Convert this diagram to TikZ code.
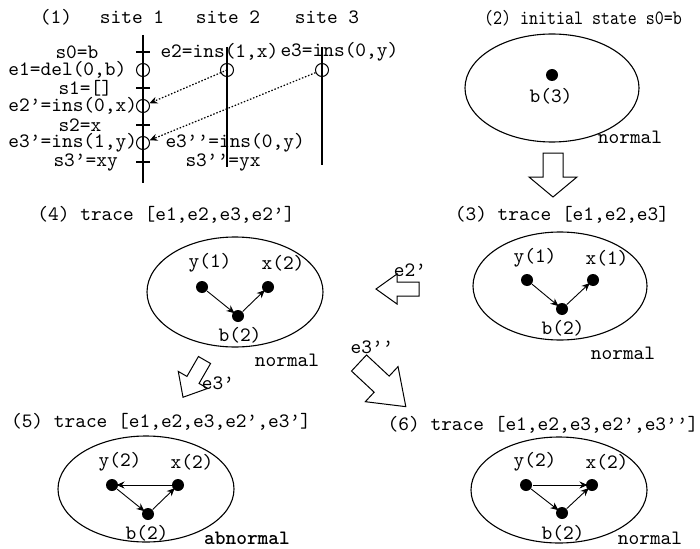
\documentclass[tikz,border=0pt]{standalone}
\usepackage{fontspec}
\setmainfont{lmmono10-regular.otf}[BoldFont=lmmonolt10-bold.otf]
\usetikzlibrary{arrows.meta}

\tikzset{
  dot/.style={circle,fill,inner sep=0pt,minimum size=12pt},
  evt/.style={circle,draw,inner sep=0pt,minimum size=13pt},
  wl/.style={anchor=west},
  state/.style={line width=1.1pt},
  msg/.style={line width=1.2pt,dash pattern=on 1.5pt off 1.8pt,->},
}

\begin{document}
\begin{tikzpicture}[x=1pt,y=-1pt,line width=1pt,>={Stealth[length=8pt,width=7pt]},
    every node/.style={inner sep=0pt,font=\fontsize{20.4}{22}\selectfont}]
  \useasboundingbox (0,0) rectangle (700,548);

  % hollow arrow: tail, angle, length, shaft half width, head half width, head length
  \def\barrow#1#2#3#4#5#6{
    \begin{scope}[shift={#1},rotate=#2]
      \draw[fill=white] (0,-#4) -- ({#3-#6},-#4) -- ({#3-#6},-#5) -- (#3,0)
        -- ({#3-#6},#5) -- ({#3-#6},#4) -- (0,#4) -- cycle;
    \end{scope}
  }

  % (1) the three sites
  \node (t1) at (56,17) {(1)};
  \node (site1) at (132,17) {site 1};
  \node (site2) at (228,17) {site 2};
  \node (site3) at (327,17) {site 3};
  \draw[line width=1.4pt] (143,35) -- (143,183);
  \draw[line width=1.4pt] (227,47) -- (227,167);
  \draw[line width=1.4pt] (322,47) -- (322,165);
  \foreach \y in {52,88,125,162}
    \draw[line width=1.2pt] (136,\y) -- (150,\y);
  \node[evt] (e1) at (143,70) {};
  \node[evt] (e2p) at (143,106) {};
  \node[evt] (e3p) at (143,143) {};
  \node[evt] (e2) at (227,70) {};
  \node[evt] (e3) at (322,70) {};
  \draw[msg] (e2.center) -- (e2p);
  \draw[msg] (e3) -- (e3p);
  \node[wl] (s0) at (55,52) {s0=b};
  \node[wl] (l1) at (8,70) {e1=del(0,b)};
  \node[wl] (s1) at (58,88) {s1=[]};
  \node[wl] (l2p) at (8,106) {e2’=ins(0,x)};
  \node[wl] (s2) at (58,125) {s2=x};
  \node[wl] (l3p) at (8,143) {e3’=ins(1,y)};
  \node[wl] (s3p) at (53,162) {s3’=xy};
  \node[wl] (l2) at (160,52) {e2=ins(1,x)};
  \node[wl] (l3) at (280,52) {e3=ins(0,y)};
  \node[wl] (l3pp) at (165,143) {e3’’=ins(0,y)};
  \node[wl] (s3pp) at (185,162) {s3’’=yx};

  % (2) initial state
  \node[xscale=0.84] (t2) at (583,18) {(2) initial state s0=b};
  \draw[state] (552,88) ellipse [x radius=87,y radius=54];
  \node[dot] (b2) at (552,75) {};
  \node (b2l) at (551,96) {b(3)};
  \node (n2) at (630,137) {normal};
  \barrow{(553,153)}{-90}{44}{10}{24}{20}

  % (3)
  \node (t3) at (562,215) {(3) trace [e1,e2,e3]};
  \draw[state] (560,286) ellipse [x radius=87,y radius=54];
  \node[dot] (y3) at (527,280) {};
  \node[dot] (x3) at (593,280) {};
  \node[dot] (b3) at (562,309) {};
  \node (y3l) at (535,258) {y(1)};
  \node (x3l) at (607,258) {x(1)};
  \node (b3l) at (563,328) {b(2)};
  \node (n3) at (623,353) {normal};
  \draw[->,line width=0.9pt,shorten >=-2pt] (y3) -- (b3);
  \draw[->,line width=0.9pt,shorten >=-2pt] (b3) -- (x3);

  % e2' moves (3) to (4)
  \barrow{(419,289)}{180}{43}{7}{15}{21}
  \node (a2p) at (410,270) {e2’};

  % (4)
  \node (t4) at (166,215) {(4) trace [e1,e2,e3,e2’]};
  \draw[state] (235,292) ellipse [x radius=88,y radius=55];
  \node[dot] (y4) at (202,287) {};
  \node[dot] (x4) at (268,287) {};
  \node[dot] (b4) at (238,316) {};
  \node (y4l) at (210,263) {y(1)};
  \node (x4l) at (283,263) {x(2)};
  \node (b4l) at (240,335) {b(2)};
  \node (n4) at (287,360) {normal};
  \draw[->,line width=0.9pt,shorten >=-2pt] (y4) -- (b4);
  \draw[->,line width=0.9pt,shorten >=-2pt] (b4) -- (x4);

  % e3' and e3'' out of (4)
  \barrow{(204.5,360)}{240}{43}{7}{17}{20}
  \node (a3p) at (218,383) {e3’};
  \barrow{(359,363)}{-43}{64}{11}{24}{33}
  \node (a3pp) at (372,347) {e3’’};

  % (5)
  \node (t5) at (161,422) {(5) trace [e1,e2,e3,e2’,e3’]};
  \draw[state] (146,489) ellipse [x radius=88,y radius=53];
  \node[dot] (y5) at (112,485) {};
  \node[dot] (x5) at (178,485) {};
  \node[dot] (b5) at (148,514) {};
  \node (y5l) at (120,462) {y(2)};
  \node (x5l) at (192,462) {x(2)};
  \node (b5l) at (147,533) {b(2)};
  \node (n5) at (247,538) {\textbf{abnormal}};
  \draw[->,line width=0.9pt,shorten >=-2pt] (y5) -- (b5);
  \draw[->,line width=0.9pt,shorten >=-2pt] (b5) -- (x5);
  \draw[->,line width=0.9pt,shorten >=-2pt] (x5) -- (y5);

  % (6)
  \node (t6) at (543,425) {(6) trace [e1,e2,e3,e2’,e3’’]};
  \draw[state] (559,490) ellipse [x radius=88,y radius=53];
  \node[dot] (y6) at (526,485) {};
  \node[dot] (x6) at (592,485) {};
  \node[dot] (b6) at (562,513) {};
  \node (y6l) at (535,462) {y(2)};
  \node (x6l) at (607,462) {x(2)};
  \node (b6l) at (563,533) {b(2)};
  \node (n6) at (650,538) {normal};
  \draw[->,line width=0.9pt,shorten >=-2pt] (y6) -- (x6);
  \draw[->,line width=0.9pt,shorten >=-2pt] (y6) -- (b6);
  \draw[->,line width=0.9pt,shorten >=-2pt] (b6) -- (x6);
\end{tikzpicture}
\end{document}
